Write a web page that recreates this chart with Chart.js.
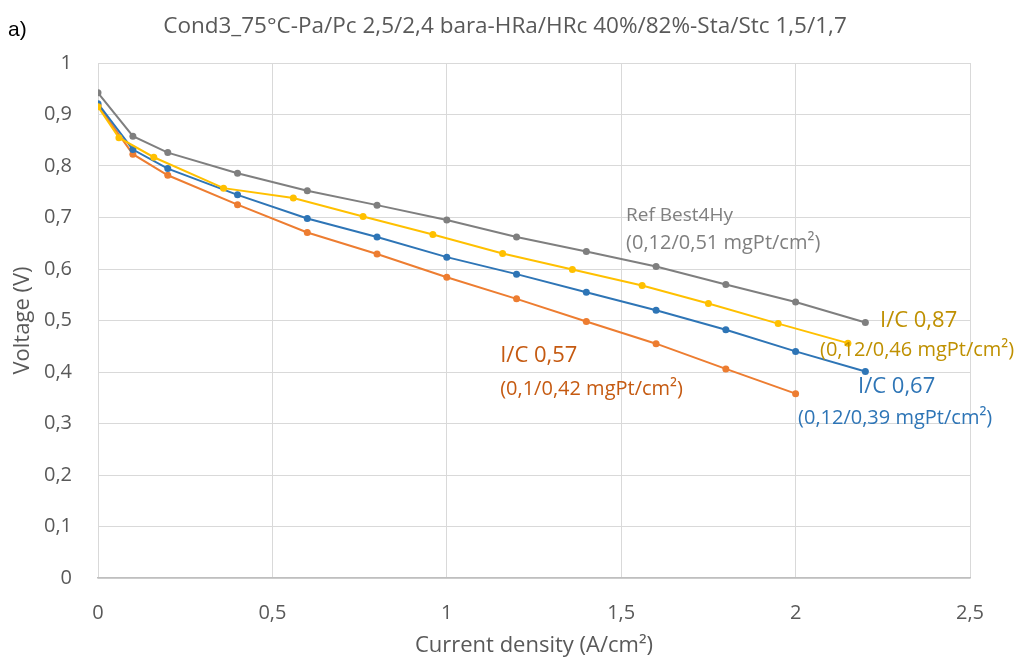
<!DOCTYPE html>
<html>
<head>
<meta charset="utf-8">
<script src="https://cdn.jsdelivr.net/npm/chart.js@4.4.1/dist/chart.umd.min.js"></script>
<style>
  html, body { margin: 0; padding: 0; background: #ffffff; }
  #wrap { position: relative; width: 1027px; height: 659px; }
</style>
</head>
<body>
<div id="wrap"><canvas id="polcurve" width="1027" height="659"></canvas></div>
<script>
// --- Datos de las curvas de polarización ---
const titleText = 'Cond3_75°C-Pa/Pc 2,5/2,4 bara-HRa/HRc 40%/82%-Sta/Stc 1,5/1,7';
const panelLabel = 'a)';
const xTitle = 'Current density (A/cm²)';
const yTitle = 'Voltage (V)';

const currentRef = [0, 0.1, 0.2, 0.4, 0.6, 0.8, 1.0, 1.2, 1.4, 1.6, 1.8, 2.0, 2.2];
const voltageRef = [0.942, 0.858, 0.826, 0.786, 0.752, 0.724, 0.695, 0.662, 0.634, 0.605, 0.570, 0.536, 0.496];

const currentIc057 = [0, 0.1, 0.2, 0.4, 0.6, 0.8, 1.0, 1.2, 1.4, 1.6, 1.8, 2.0];
const voltageIc057 = [0.918, 0.823, 0.782, 0.725, 0.671, 0.629, 0.584, 0.542, 0.498, 0.455, 0.406, 0.358];

const currentIc067 = [0, 0.1, 0.2, 0.4, 0.6, 0.8, 1.0, 1.2, 1.4, 1.6, 1.8, 2.0, 2.2];
const voltageIc067 = [0.921, 0.832, 0.795, 0.744, 0.698, 0.662, 0.623, 0.590, 0.555, 0.520, 0.482, 0.440, 0.401];

const currentIc087 = [0, 0.06, 0.16, 0.36, 0.56, 0.76, 0.96, 1.16, 1.36, 1.56, 1.75, 1.95, 2.15];
const voltageIc087 = [0.915, 0.855, 0.817, 0.757, 0.738, 0.702, 0.667, 0.630, 0.599, 0.568, 0.533, 0.494, 0.456];

const xTicks = [0, 0.5, 1, 1.5, 2, 2.5];
const yTicks = [0, 0.1, 0.2, 0.3, 0.4, 0.5, 0.6, 0.7, 0.8, 0.9, 1];

// Etiquetas de las series (texto, posición en unidades de datos, color)
const seriesLabels = [
    { text: 'Ref Best4Hy', x: 1.514, y: 0.704, size: 19, color: '#7f7f7f' },
    { text: '(0,12/0,51 mgPt/cm²)', x: 1.514, y: 0.650, size: 20, color: '#7f7f7f' },
    { text: 'I/C 0,87', x: 2.242, y: 0.500, size: 22, color: '#bf9000' },
    { text: '(0,12/0,46 mgPt/cm²)', x: 2.07, y: 0.442, size: 20, color: '#bf9000' },
    { text: 'I/C 0,67', x: 2.179, y: 0.372, size: 22, color: '#2e75b6' },
    { text: '(0,12/0,39 mgPt/cm²)', x: 2.007, y: 0.310, size: 20, color: '#2e75b6' },
    { text: 'I/C 0,57', x: 1.153, y: 0.431, size: 22, color: '#c55a11' },
    { text: '(0,1/0,42 mgPt/cm²)', x: 1.153, y: 0.367, size: 20, color: '#c55a11' }
];

const FONT = "'Open Sans', 'Liberation Sans', sans-serif";

function toPoints(xs, ys) {
    return xs.map((x, i) => ({ x: x, y: ys[i] }));
}

function serie(label, xs, ys, color) {
    return {
        label: label,
        data: toPoints(xs, ys),
        borderColor: color,
        backgroundColor: color,
        borderWidth: 2,
        pointRadius: 3.5,
        pointHoverRadius: 3.5,
        pointBorderWidth: 0,
        tension: 0
    };
}

// Plugin para el texto libre: "a)", título y etiquetas de series
const textPlugin = {
    id: 'textos',
    afterDatasetsDraw(chart) {
        const ctx = chart.ctx;
        const xs = chart.scales.x;
        const ys = chart.scales.y;
        ctx.save();
        ctx.textBaseline = 'middle';
        ctx.textAlign = 'left';
        seriesLabels.forEach(l => {
            ctx.font = l.size + 'px ' + FONT;
            ctx.fillStyle = l.color;
            ctx.fillText(l.text, xs.getPixelForValue(l.x), ys.getPixelForValue(l.y));
        });
        ctx.font = '21px Arial, "Liberation Sans", sans-serif';
        ctx.fillStyle = '#000000';
        ctx.fillText(panelLabel, 8, 30);
        ctx.font = '22.5px ' + FONT;
        ctx.fillStyle = '#595959';
        ctx.textAlign = 'center';
        ctx.fillText(titleText, 505, 27);
        ctx.restore();
    }
};

new Chart(document.getElementById('polcurve').getContext('2d'), {
    type: 'line',
    data: {
        datasets: [
            serie('I/C 0,87', currentIc087, voltageIc087, '#ffc000'),
            serie('Ref Best4Hy', currentRef, voltageRef, '#7f7f7f'),
            serie('I/C 0,67', currentIc067, voltageIc067, '#2e75b6'),
            serie('I/C 0,57', currentIc057, voltageIc057, '#ed7d31')
        ]
    },
    options: {
        responsive: false,
        animation: false,
        devicePixelRatio: 1,
        layout: { padding: { left: 0, right: 57, top: 63, bottom: 0 } },
        scales: {
            x: {
                type: 'linear',
                min: 0,
                max: 2.5,
                afterBuildTicks: (s) => { s.ticks = xTicks.map(v => ({ value: v })); },
                afterFit: (s) => { s.height = 81; },
                grid: { color: '#d9d9d9', lineWidth: 1, drawTicks: false },
                border: { color: '#bfbfbf', width: 1.5 },
                ticks: {
                    color: '#595959',
                    font: { family: FONT, size: 20 },
                    padding: 23,
                    maxRotation: 0,
                    callback: (v) => String(v).replace('.', ',')
                },
                title: {
                    display: true,
                    text: xTitle,
                    color: '#595959',
                    font: { family: FONT, size: 22 },
                    padding: { top: 4, bottom: 0 }
                }
            },
            y: {
                type: 'linear',
                min: 0,
                max: 1,
                afterBuildTicks: (s) => { s.ticks = yTicks.map(v => ({ value: v })); },
                afterFit: (s) => { s.width = 98; },
                grid: { color: '#d9d9d9', lineWidth: 1, drawTicks: false },
                border: { display: false },
                ticks: {
                    color: '#595959',
                    font: { family: FONT, size: 20 },
                    padding: 26,
                    callback: (v) => String(v).replace('.', ',')
                },
                title: {
                    display: true,
                    text: yTitle,
                    color: '#595959',
                    font: { family: FONT, size: 22 },
                    padding: { top: 10, bottom: 0 }
                }
            }
        },
        plugins: {
            legend: { display: false },
            tooltip: { enabled: false },
            title: { display: false }
        }
    },
    plugins: [textPlugin]
});
</script>
</body>
</html>
